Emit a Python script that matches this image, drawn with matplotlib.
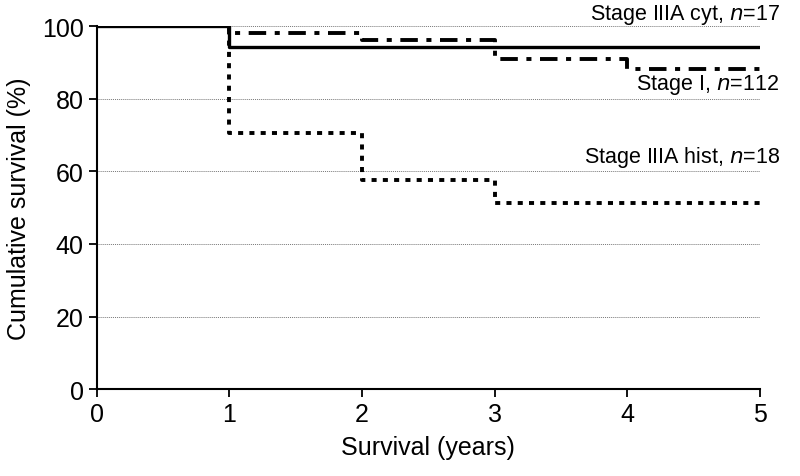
import matplotlib
matplotlib.use("Agg")
from matplotlib import pyplot as plt

plt.rcParams['font.family'] = ['Liberation Sans', 'DejaVu Sans']

# years at which survival changes, and survival (%) after each step
years = [0, 1, 2, 3, 4, 5]
stage_i = [100, 94.2, 94.2, 94.2, 94.2, 94.2]
stage_iiia_cyt = [100, 98.2, 96.3, 90.9, 88.1, 88.1]
stage_iiia_hist = [100, 70.6, 57.7, 51.4, 51.4, 51.4]

labels = ["Stage I, $n$=112", "Stage IIIA cyt, $n$=17", "Stage IIIA hist, $n$=18"]

fig = plt.figure(figsize=(8, 4.77), dpi=100)
ax = fig.add_axes([0.121, 0.182, 0.829, 0.761])

for yv in [20, 40, 60, 80, 100]:
    ax.plot([0, 5], [yv, yv], color='#777777', lw=0.7, ls=(0, (1, 1)), zorder=1)

ax.step(years, stage_i, where='post', color='black', lw=2.4, zorder=3)
ax.step(years, stage_iiia_cyt, where='post', color='black', lw=2.8,
        ls=(0, (4.5, 2.2, 1.3, 2.2)), zorder=3)
ax.step(years, stage_iiia_hist, where='post', color='black', lw=2.8,
        ls=(0, (1.3, 1.6)), zorder=3)

ax.set_xlim(0, 5)
ax.set_ylim(0, 100)
ax.set_xticks(range(6))
ax.set_yticks(range(0, 101, 20))
ax.spines['top'].set_visible(False)
ax.spines['right'].set_visible(False)
ax.spines['left'].set_linewidth(1.5)
ax.spines['bottom'].set_linewidth(1.5)
ax.tick_params(direction='out', length=6, width=1.3, labelsize=18)
ax.set_xlabel("Survival (years)", fontsize=18, labelpad=6)
ax.set_ylabel("Cumulative survival (%)", fontsize=18, labelpad=8)

ax.text(5.155, 103.3, labels[1], ha='right', va='center', fontsize=15.5, clip_on=False)
ax.text(5.145, 84, labels[0], ha='right', va='center', fontsize=15.5, clip_on=False)
ax.text(5.155, 64, labels[2], ha='right', va='center', fontsize=15.5, clip_on=False)

fig.savefig("out.png", dpi=100)
